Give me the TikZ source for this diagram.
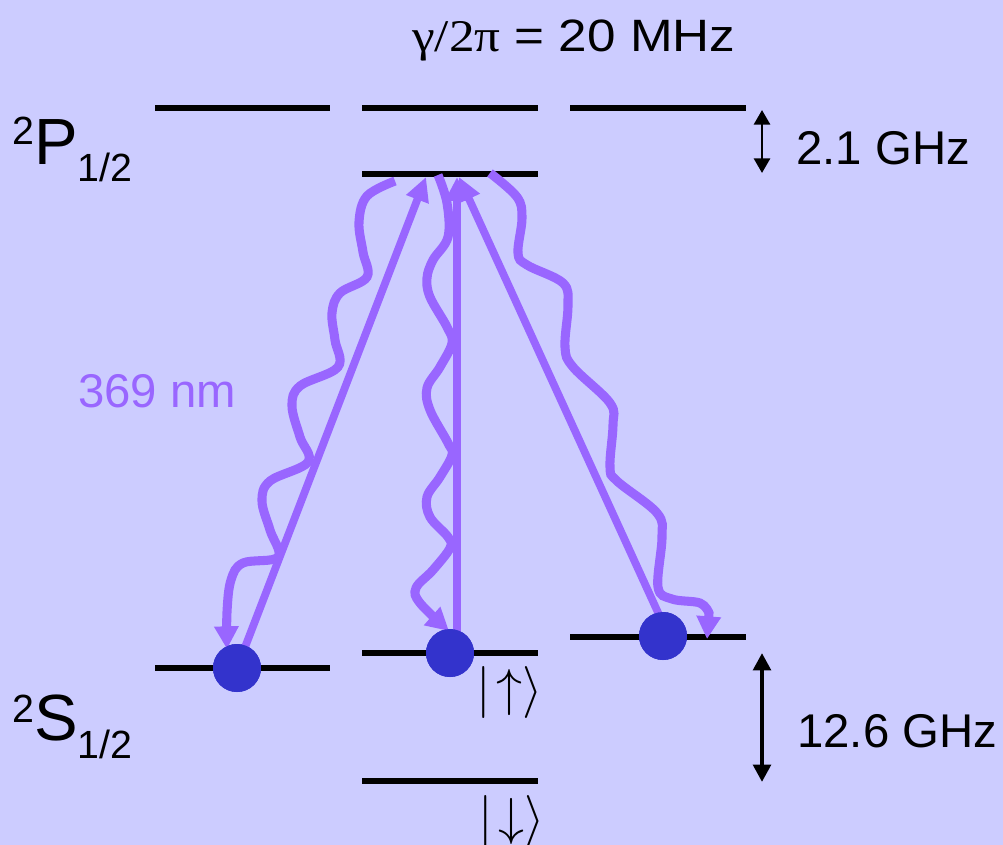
\RequirePackage{fix-cm}
\documentclass[tikz,border=0pt]{standalone}
\usepackage{fontspec}
\setmainfont{Liberation Sans}
\newfontfamily\serifgr{Liberation Serif}
\usetikzlibrary{arrows.meta}
\definecolor{bg}{HTML}{CCCCFF}
\definecolor{ph}{HTML}{9966FF}
\definecolor{atom}{HTML}{3333CC}
\begin{document}
\begin{tikzpicture}[x=0.75pt,y=-0.75pt,
  level/.style={line width=4.5pt},
  beam/.style={ph, line width=5.8pt, -{Triangle[length=18pt,width=17pt]}},
  wave/.style={ph, line width=6.8pt, -{Triangle[length=17pt,width=17.5pt]}},
  dot/.style={circle, fill=atom, minimum size=36pt, inner sep=0pt},
  gap/.style={line width=2.2pt, {Triangle[length=11pt,width=12pt]}-{Triangle[length=11pt,width=12pt]}},
  gapb/.style={line width=3.6pt, {Triangle[length=13pt,width=13pt]}-{Triangle[length=13pt,width=13pt]}},
  lbl/.style={font=\fontsize{35.5}{40}\selectfont, anchor=base west, inner sep=0pt},
  ket/.style={font=\fontsize{39}{42}\selectfont, anchor=base west, inner sep=0pt}
]
\useasboundingbox (0,0) rectangle (1003,845);
\fill[bg] (0,0) rectangle (1003,845);

% levels
\draw[level] (155,108) -- (330,108);
\draw[level] (362,108) -- (538,108);
\draw[level] (570,108) -- (746,108);
\draw[level] (362,174) -- (538,174);
\draw[level] (155,668) -- (330,668);
\draw[level] (362,653) -- (538,653);
\draw[level] (570,637) -- (746,637);
\draw[level] (362,781) -- (538,781);

% atoms
\node[dot] (d1) at (237,668) {};
\node[dot] (d2) at (450,653) {};
\node[dot] (d3) at (663,636) {};

% beam targets
\coordinate (t1) at (426,177);
\coordinate (t2) at (457,177);
\coordinate (t3) at (459,177);
\coordinate (s2) at (457,640);
\coordinate (s3) at (666,630);

% wave endpoints
\coordinate (w1s) at (395,181);
\coordinate (w1e) at (227,649);
\coordinate (w2s) at (438,175);
\coordinate (w2e) at (449,631);
\coordinate (w3s) at (490,173);
\coordinate (w3e) at (707,639);

% spontaneous emission waves
\draw[wave] plot[smooth, tension=0.6] coordinates {(w1s) (367,196) (359,222) (363,252) (367,277) (340,293) (332,313) (335,340) (338,367) (300,386) (292,406) (300,437) (308,462) (270,481) (262,501) (270,530) (278,557) (243,563) (231,580) (227,612) (w1e)};
\draw[wave] plot[smooth, tension=0.6] coordinates {(w2s) (447,203) (448,237) (433,260) (427,278) (430,297) (447,327) (452,343) (440,367) (427,388) (430,410) (448,443) (452,455) (440,477) (427,497) (430,517) (448,537) (450,548) (433,570) (416,588) (420,603) (w2e)};
\draw[wave] plot[smooth, tension=0.6] coordinates {(w3s) (517,197) (522,218) (518,253) (527,265) (563,283) (568,305) (565,347) (573,367) (610,403) (613,425) (610,467) (617,481) (657,513) (662,537) (658,587) (672,599) (700,603) (709,613)} -- (w3e);

% laser beams
\draw[beam] (d1.center) -- (t1);
\draw[beam] (s2) -- (t2);
\draw[beam] (s3) -- (t3);

% redraw atoms on top
\node[dot] at (d1) {};
\node[dot] at (d2) {};
\node[dot] at (d3) {};

% splittings
\coordinate (a1t) at (762,110);
\coordinate (a1b) at (762,173);
\coordinate (a2t) at (762,653);
\coordinate (a2b) at (762,782);
\draw[gap] (a1t) -- (a1b);
\draw[gapb] (a2t) -- (a2b);

% labels
\node[anchor=base west, inner sep=0pt, font=\fontsize{34}{40}\selectfont] (title) at (412,52) {\scalebox{1.13}[1]{{\serifgr γ/2π} = 20 MHz}};
\node[lbl] (hf1) at (796,165) {2.1 GHz};
\node[lbl] (hf2) at (797,747) {12.6 GHz};
\node[lbl, text=ph] (lam) at (78,407) {369 nm};
\node[anchor=base west, inner sep=0pt] (P) at (12,165) {\fontsize{29.5}{30}\selectfont\raisebox{15pt}{2}\fontsize{49}{55}\selectfont P\fontsize{29.5}{30}\selectfont\raisebox{-12.75pt}{1/2}};
\node[anchor=base west, inner sep=0pt] (S) at (12,740) {\fontsize{29.5}{30}\selectfont\raisebox{13.5pt}{2}\fontsize{49}{55}\selectfont S\fontsize{29.5}{30}\selectfont\raisebox{-13.5pt}{1/2}};
\node[ket] (kup) at (476,705) {$|\!\uparrow\rangle$};
\node[ket] (kdn) at (478,834) {$|\!\downarrow\rangle$};
\end{tikzpicture}
\end{document}
